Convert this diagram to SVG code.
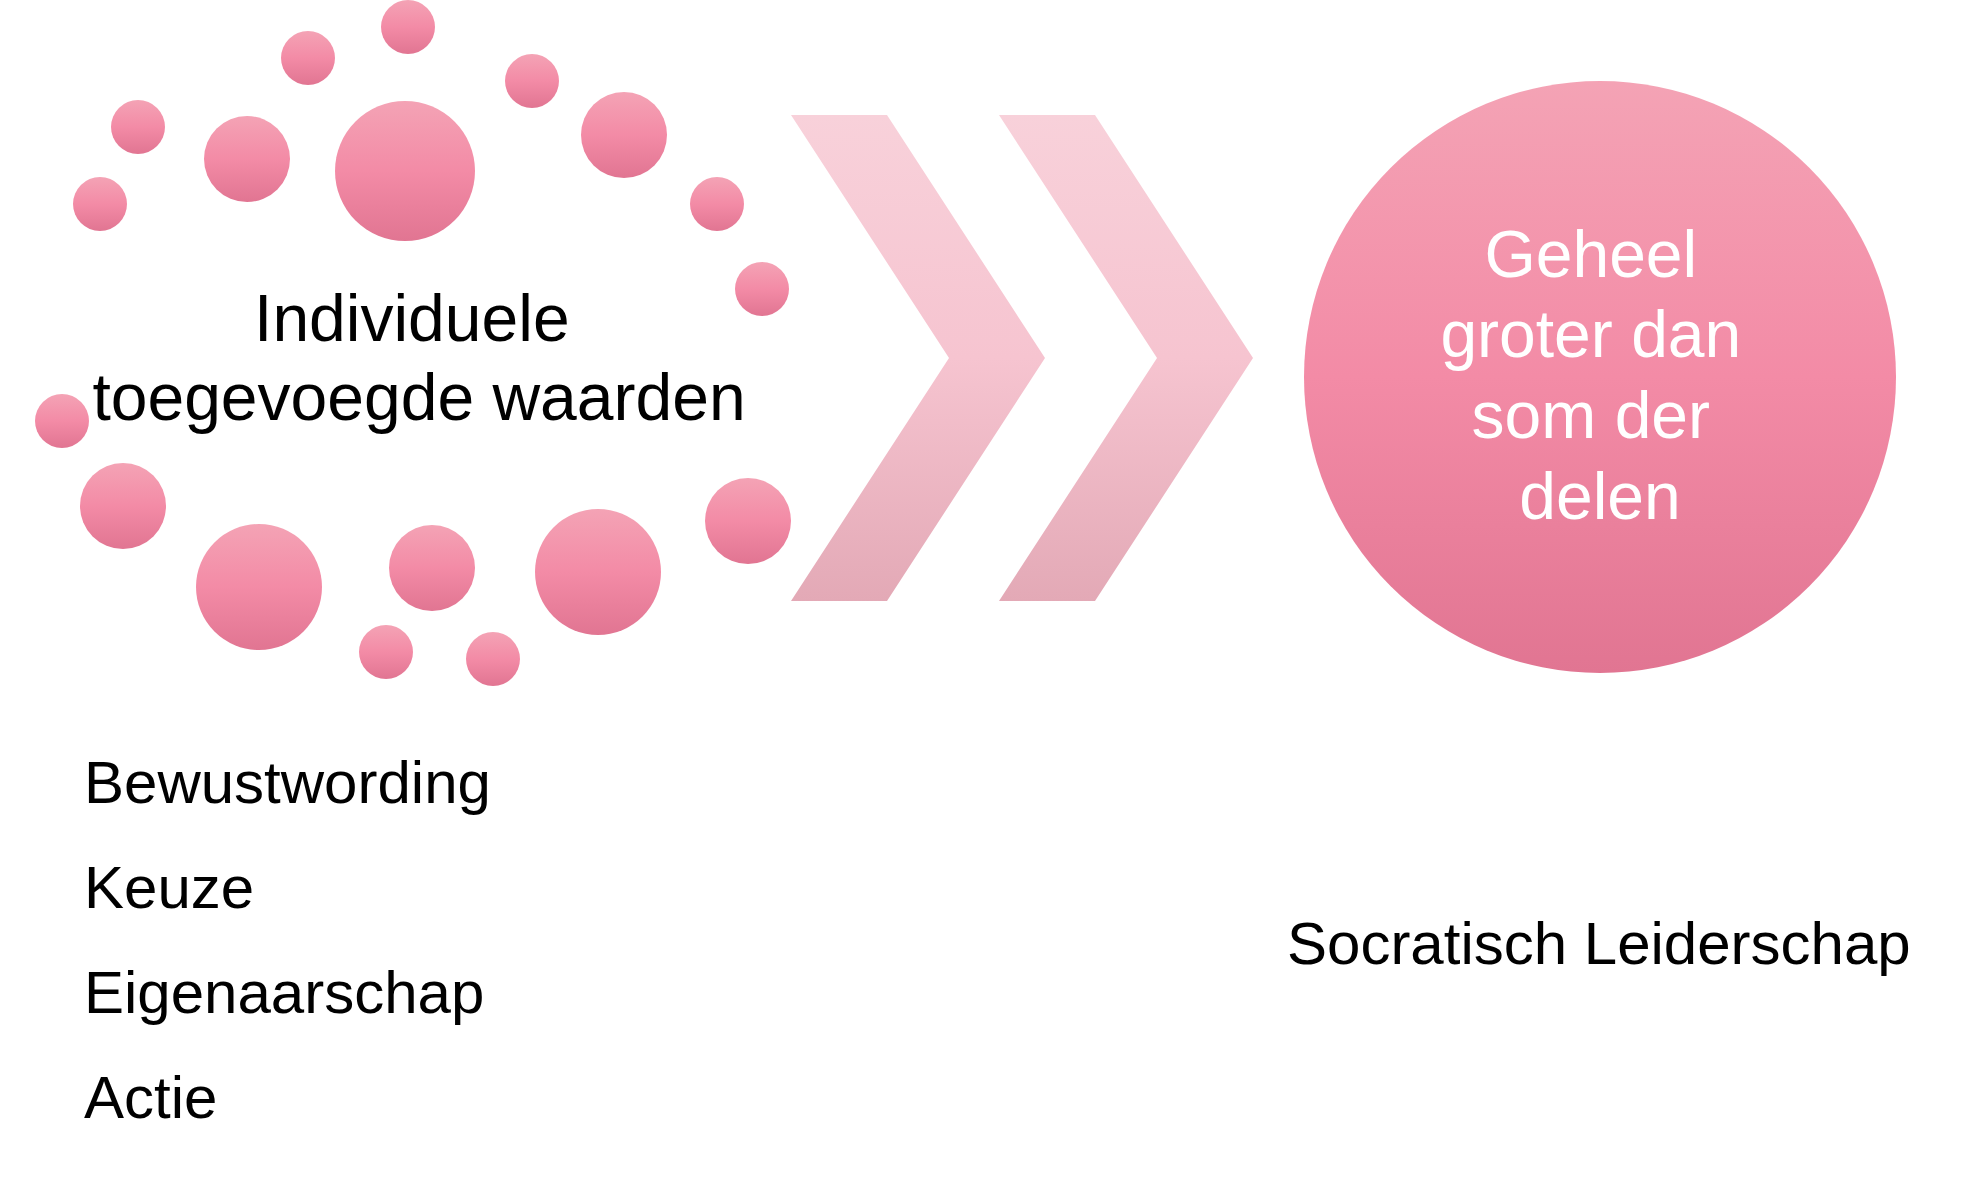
<svg xmlns="http://www.w3.org/2000/svg" width="1980" height="1180" viewBox="0 0 1980 1180">
  <defs>
    <linearGradient id="gBall" x1="0" y1="0" x2="0" y2="1">
      <stop offset="0" stop-color="#F4A3B5"/>
      <stop offset="0.5" stop-color="#F38BA6"/>
      <stop offset="1" stop-color="#E17592"/>
    </linearGradient>
    <linearGradient id="gChev" x1="0" y1="0" x2="0" y2="1">
      <stop offset="0" stop-color="#F8D1DA"/>
      <stop offset="0.5" stop-color="#F6C4D0"/>
      <stop offset="1" stop-color="#E3A9B6"/>
    </linearGradient>
    <style>
      .ball { fill: url(#gBall); }
      .chev { fill: url(#gChev); }
      .t { font-family: "Liberation Sans", Arial, sans-serif; fill: #000000; }
      .w { font-family: "Liberation Sans", Arial, sans-serif; fill: #FFFFFF; }
    </style>
  </defs>
  <rect width="1980" height="1180" fill="#FFFFFF"/>

  <g id="bubbles">
    <circle class="ball" cx="408" cy="27" r="27"/>
    <circle class="ball" cx="308" cy="58" r="27"/>
    <circle class="ball" cx="532" cy="81" r="27"/>
    <circle class="ball" cx="138" cy="127" r="27"/>
    <circle class="ball" cx="247" cy="159" r="43"/>
    <circle class="ball" cx="405" cy="171" r="70"/>
    <circle class="ball" cx="624" cy="135" r="43"/>
    <circle class="ball" cx="100" cy="204" r="27"/>
    <circle class="ball" cx="717" cy="204" r="27"/>
    <circle class="ball" cx="762" cy="289" r="27"/>
    <circle class="ball" cx="62" cy="421" r="27"/>
    <circle class="ball" cx="123" cy="506" r="43"/>
    <circle class="ball" cx="259" cy="587" r="63"/>
    <circle class="ball" cx="432" cy="568" r="43"/>
    <circle class="ball" cx="598" cy="572" r="63"/>
    <circle class="ball" cx="748" cy="521" r="43"/>
    <circle class="ball" cx="386" cy="652" r="27"/>
    <circle class="ball" cx="493" cy="659" r="27"/>
  </g>

  <g id="label-individuele">
    <text class="t" font-size="66" text-anchor="middle">
      <tspan x="421" y="341">Individuele</tspan>
      <tspan x="419" y="420">toegevoegde waarden</tspan>
    </text>
  </g>

  <g id="chevron-1">
    <polygon class="chev" points="791,115 887,115 1045,358 887,601 791,601 949,358"/>
  </g>
  <g id="chevron-2">
    <polygon class="chev" points="999,115 1095,115 1253,358 1095,601 999,601 1157,358"/>
  </g>

  <g id="whole-circle">
    <circle class="ball" cx="1600" cy="377" r="296"/>
    <text class="w" font-size="66" text-anchor="middle">
      <tspan x="1600" y="277">Geheel</tspan>
      <tspan x="1600" y="357">groter dan</tspan>
      <tspan x="1600" y="438">som der</tspan>
      <tspan x="1600" y="519">delen</tspan>
    </text>
  </g>

  <g id="steps-list">
    <text class="t" font-size="60" x="84" y="803">Bewustwording</text>
    <text class="t" font-size="60" x="84" y="908">Keuze</text>
    <text class="t" font-size="60" x="84" y="1013">Eigenaarschap</text>
    <text class="t" font-size="60" x="84" y="1118">Actie</text>
  </g>

  <g id="label-socratisch">
    <text class="t" font-size="60" x="1287" y="964">Socratisch Leiderschap</text>
  </g>

  <g id="connectors"></g>
</svg>
